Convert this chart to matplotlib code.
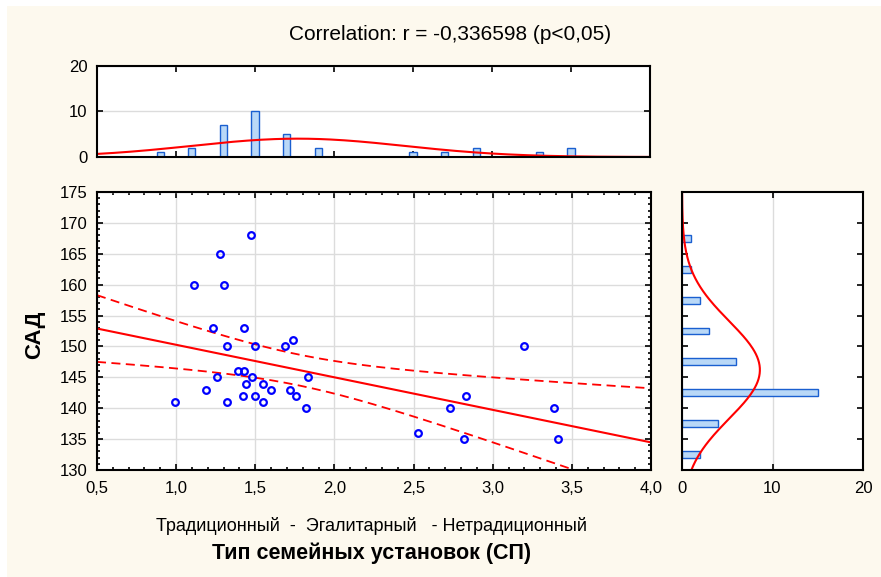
import numpy as np
import matplotlib.pyplot as plt
from matplotlib.patches import Rectangle

plt.rcParams['font.family'] = ['Liberation Sans', 'DejaVu Sans']

# scatter data: family attitude type vs systolic pressure
attitude = [1.47, 1.28, 1.11, 1.30, 1.23, 1.43, 1.32, 1.50, 1.69, 1.74,
            1.39, 1.43, 1.26, 1.48, 1.83, 1.44, 1.55, 1.19, 1.60, 1.72,
            1.42, 1.50, 1.76, 0.99, 1.32, 1.55, 1.82,
            3.20, 2.83, 2.73, 3.39, 2.53, 2.82, 3.41]
sad = [168, 165, 160, 160, 153, 153, 150, 150, 150, 151,
       146, 146, 145, 145, 145, 144, 144, 143, 143, 143,
       142, 142, 142, 141, 141, 141, 140,
       150, 142, 140, 140, 136, 135, 135]

# marginal histograms (counts)
x_bins = [0.9, 1.1, 1.3, 1.5, 1.7, 1.9, 2.1, 2.3, 2.5, 2.7, 2.9, 3.1, 3.3, 3.5]
x_counts = [1, 2, 7, 10, 5, 2, 0, 0, 1, 1, 2, 0, 1, 2]
y_bins = [132.5, 137.5, 142.5, 147.5, 152.5, 157.5, 162.5, 167.5]
y_counts = [2, 4, 15, 6, 3, 2, 1, 1]

title = "Correlation: r = -0,336598 (p<0,05)"
x_ticks = [0.5, 1.0, 1.5, 2.0, 2.5, 3.0, 3.5, 4.0]
y_ticks = [130, 135, 140, 145, 150, 155, 160, 165, 170, 175]

W, H = 881, 577
bg = '#fdf9ee'
bar_face = '#b9d8f7'
bar_edge = '#1a5fd0'


def box(l, t, r, b):
    return [l / W, 1 - b / H, (r - l) / W, (b - t) / H]


def style(ax):
    for s in ax.spines.values():
        s.set_linewidth(1.5)
    ax.tick_params(which='both', direction='in', top=True, right=True,
                   labelsize=12, width=1.2)
    ax.tick_params(which='major', length=4)
    ax.tick_params(which='minor', length=2)
    ax.tick_params(axis='x', pad=8)
    ax.tick_params(axis='y', pad=7)


x = np.array(attitude)
y = np.array(sad)
n = len(x)

fig = plt.figure(figsize=(W / 100, H / 100), dpi=100)
fig.patch.set_facecolor('white')
fig.patches.append(Rectangle((7 / W, 0), 1, 1 - 6 / H, transform=fig.transFigure,
                             facecolor=bg, edgecolor='none', zorder=-10))

# main scatter
ax = fig.add_axes(box(97, 192, 651, 470))
ax.set_xlim(0.5, 4.0)
ax.set_ylim(130, 175)
ax.set_xticks(x_ticks)
ax.set_xticklabels([f"{v:.1f}".replace('.', ',') for v in x_ticks])
ax.set_yticks(y_ticks)
ax.set_xticks(np.arange(0.5, 4.01, 0.1), minor=True)
ax.set_yticks(np.arange(130, 175.1, 1), minor=True)
ax.grid(True, which='major', color='#dcdcdc', lw=1)
ax.set_axisbelow(True)
style(ax)

slope, icpt = np.polyfit(x, y, 1)
xs = np.linspace(0.5, 4.0, 200)
yhat = icpt + slope * xs
resid = y - (icpt + slope * x)
s = np.sqrt(np.sum(resid ** 2) / (n - 2))
sxx = np.sum((x - x.mean()) ** 2)
t_crit = 2.037  # t(0.975, 32)
hw = t_crit * s * np.sqrt(1 / n + (xs - x.mean()) ** 2 / sxx)
ax.plot(xs, yhat, color='red', lw=1.5)
ax.plot(xs, yhat + hw, color='red', lw=1.3, ls=(0, (5, 3)))
ax.plot(xs, yhat - hw, color='red', lw=1.3, ls=(0, (5, 3)))
ax.plot(x, y, 'o', mfc='none', mec='#0000ff', ms=4.8, mew=1.6, zorder=5)

fig.text(35 / W, 1 - 335 / H, "САД", rotation=90, ha='center', va='center',
         fontsize=16, fontweight='bold')
fig.text(372 / W, 1 - 526 / H, "Традиционный  -  Эгалитарный   - Нетрадиционный",
         ha='center', va='center', fontsize=13)
fig.text(372 / W, 1 - 553 / H, "Тип семейных установок (СП)",
         ha='center', va='center', fontsize=15.5, fontweight='bold')
fig.text(450 / W, 1 - 35 / H, title, ha='center', va='center', fontsize=15)

# top histogram
axt = fig.add_axes(box(97, 66, 650, 157))
axt.bar(x_bins, x_counts, width=0.045, color=bar_face, edgecolor=bar_edge, lw=1)
mx, sx = x.mean(), x.std(ddof=1)
axt.plot(xs, n * 0.2 * np.exp(-0.5 * ((xs - mx) / sx) ** 2) / (sx * np.sqrt(2 * np.pi)),
         color='red', lw=1.5)
axt.set_xlim(0.5, 4.0)
axt.set_ylim(0, 20)
axt.set_xticks(x_ticks)
axt.set_xticklabels([])
axt.set_yticks([0, 10, 20])
axt.grid(True, axis='y', color='#dcdcdc', lw=1)
axt.set_axisbelow(True)
style(axt)

# right histogram
axr = fig.add_axes(box(682, 192, 863, 470))
axr.barh(y_bins, y_counts, height=1.1, color=bar_face, edgecolor=bar_edge, lw=1)
my, sy = y.mean(), y.std(ddof=1)
ys = np.linspace(130, 175, 200)
axr.plot(n * 5 * np.exp(-0.5 * ((ys - my) / sy) ** 2) / (sy * np.sqrt(2 * np.pi)), ys,
         color='red', lw=1.5)
axr.set_ylim(130, 175)
axr.set_xlim(0, 20)
axr.set_xticks([0, 10, 20])
axr.set_yticks(y_ticks)
axr.set_yticklabels([])
axr.grid(True, axis='x', color='#dcdcdc', lw=1)
axr.set_axisbelow(True)
style(axr)

fig.savefig('out.png', dpi=100, facecolor=fig.get_facecolor())
